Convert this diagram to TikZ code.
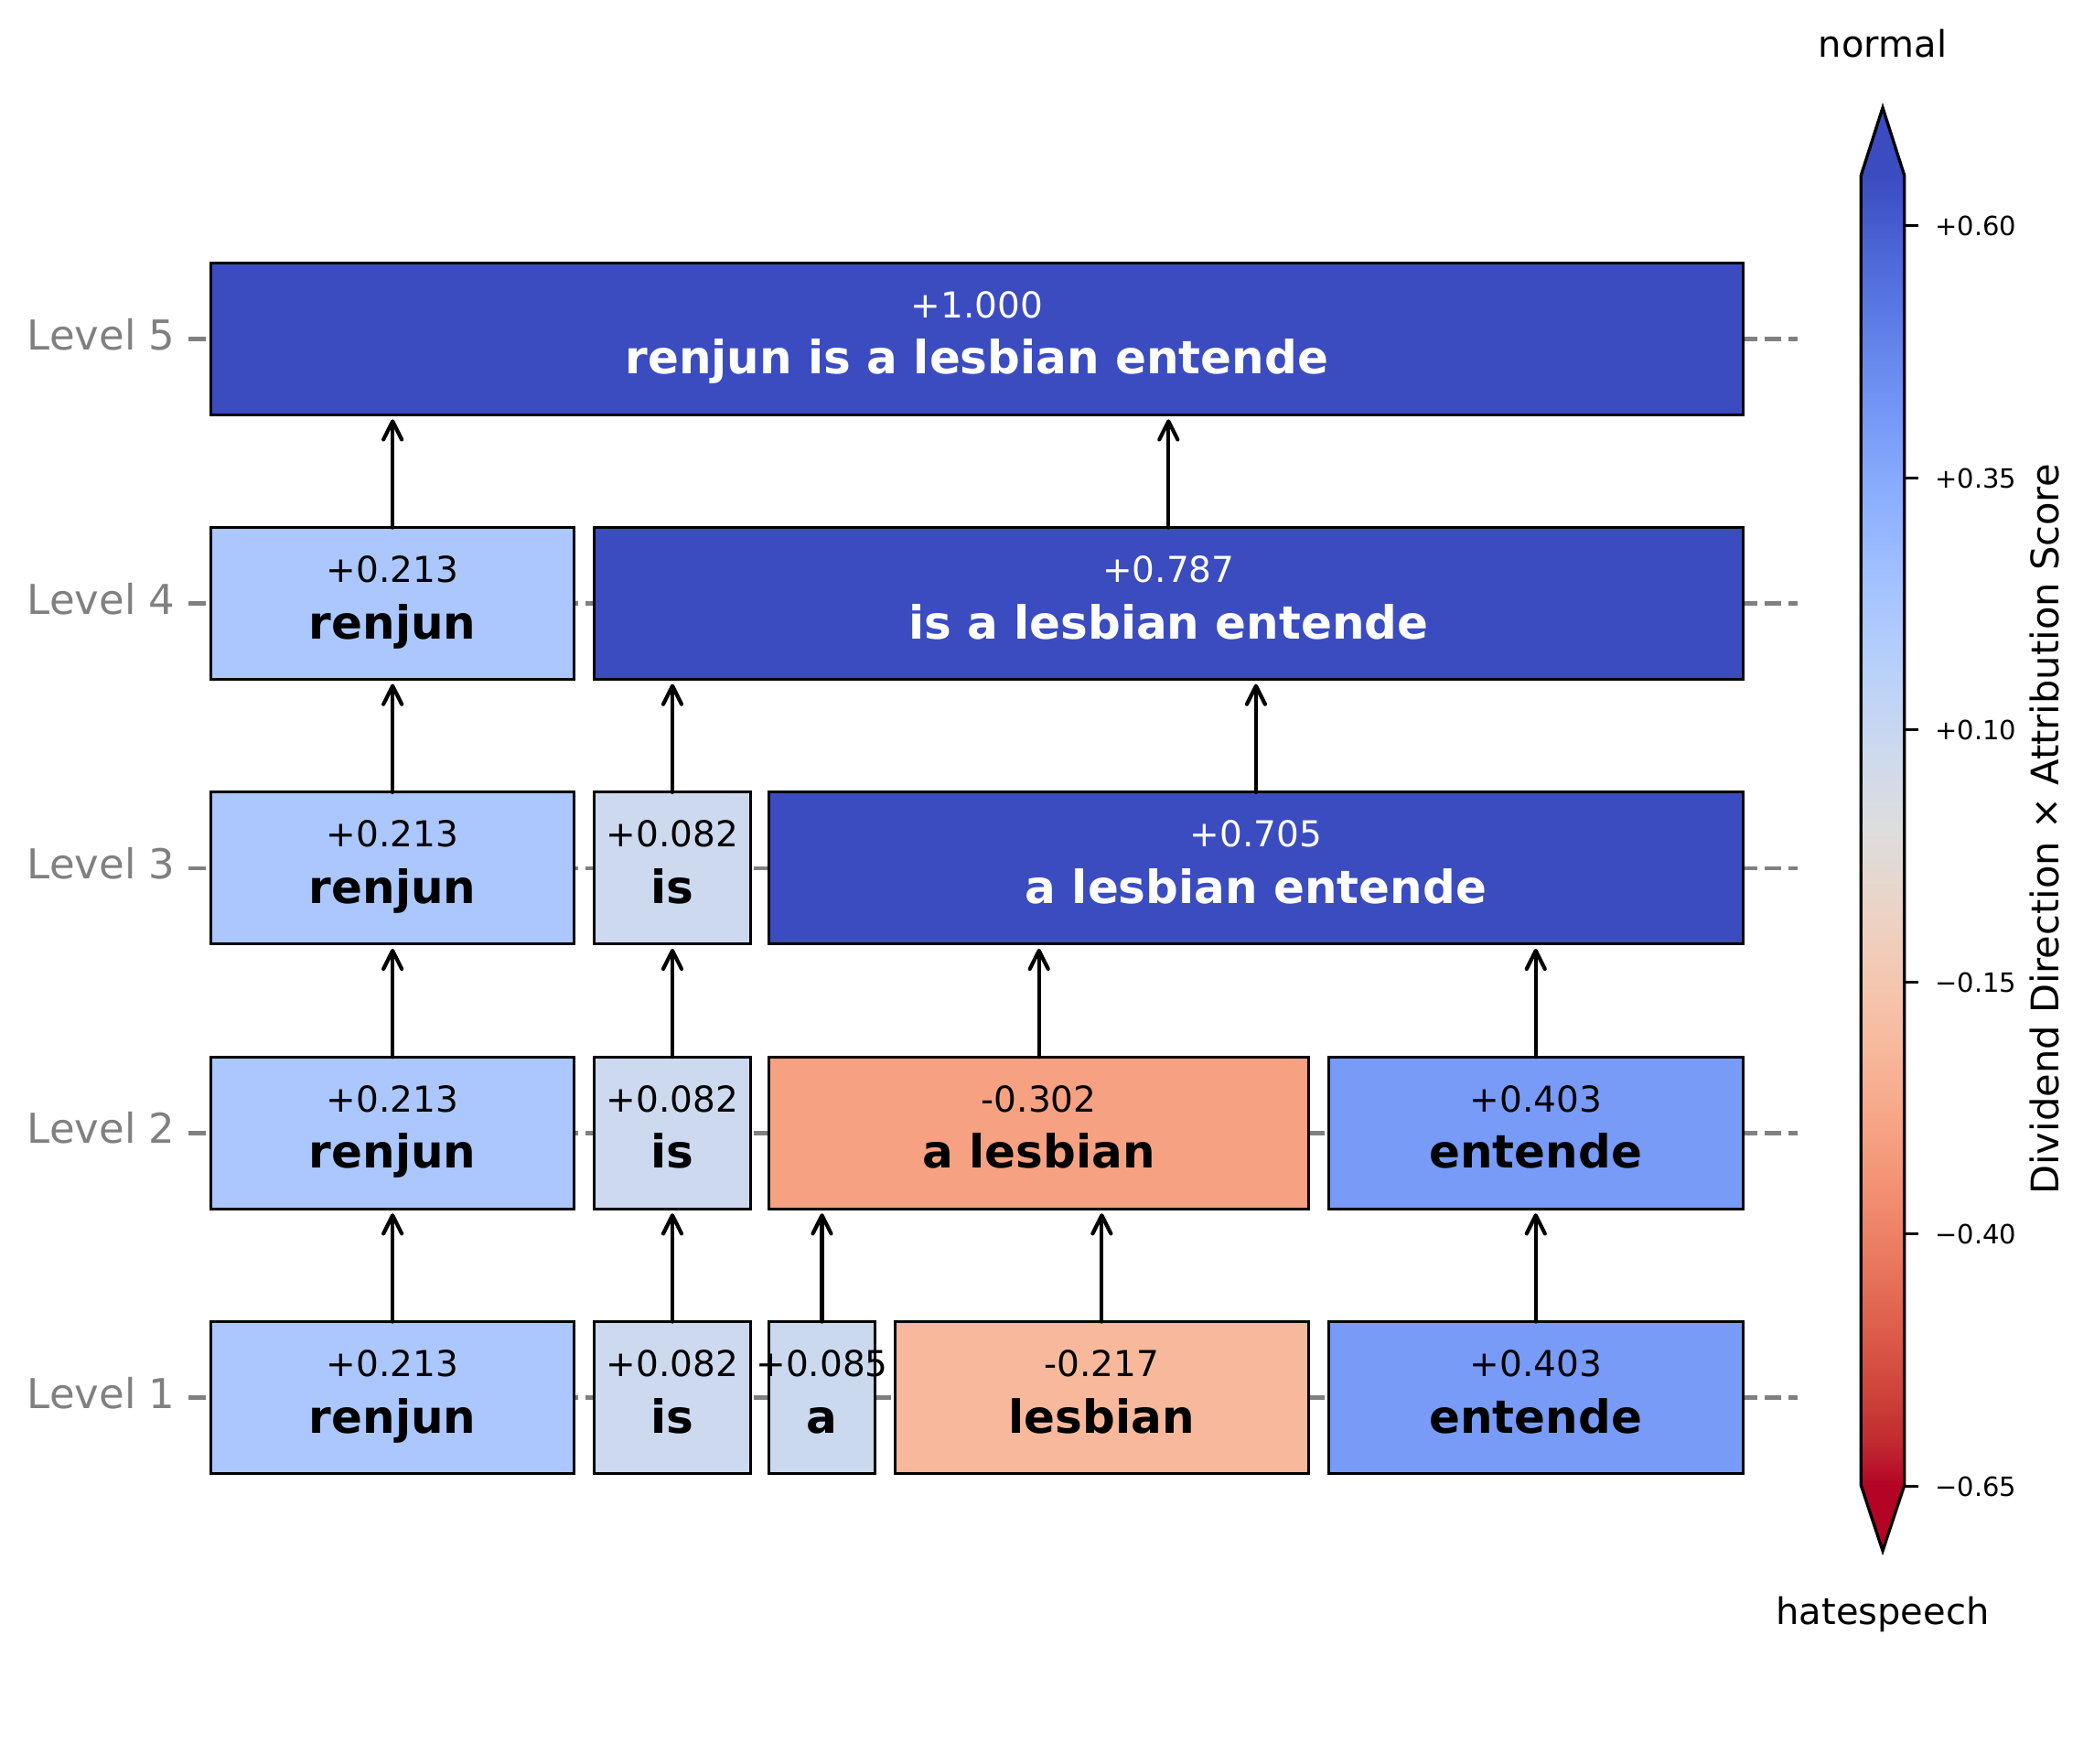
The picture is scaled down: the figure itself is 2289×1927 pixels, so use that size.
\documentclass[tikz,border=0pt]{standalone}
\usepackage{fontspec}
\setmainfont{DejaVu Sans}
\usetikzlibrary{arrows.meta}
\definecolor{cwtop}{RGB}{59,76,192}
\definecolor{cwbot}{RGB}{180,4,38}
\definecolor{cP213}{RGB}{171,199,253}
\definecolor{cP082}{RGB}{204,217,238}
\definecolor{cP085}{RGB}{203,217,238}
\definecolor{cM217}{RGB}{247,184,156}
\definecolor{cM302}{RGB}{246,161,130}
\definecolor{cP403}{RGB}{120,155,247}
\definecolor{axgray}{RGB}{128,128,128}
\newcommand\tokbox[8]{%
  \pgfmathsetmacro\tbcx{(#2+#3)/2}%
  \pgfmathsetmacro\tbw{(#3-#2)*0.5}%
  \node[box, fill=#5, minimum width=\tbw pt] (#1) at (\tbcx,#4) {};%
  \node[score, text=#6] (#1s) at (\tbcx,#4-23) {#7};%
  \node[word, text=#6] (#1w) at (\tbcx,#4+38.6) {#8};%
}
\newcommand\upconn[2]{\draw[arr] (#1.north) -- (#1.north |- #2.south);}
\begin{document}
\begin{tikzpicture}[x=0.5pt,y=-0.5pt,
  box/.style={draw=black, line width=1.5pt, rectangle, inner sep=0pt, outer sep=0pt, minimum height=83pt},
  score/.style={font=\fontsize{19.5}{20}\selectfont, inner sep=0pt, anchor=base},
  word/.style={font=\fontsize{25}{26}\selectfont\bfseries, inner sep=0pt, anchor=base},
  lvl/.style={font=\fontsize{22.5}{24}\selectfont, text=axgray, inner sep=0pt, anchor=base east},
  dashl/.style={axgray, line width=2.35pt, dash pattern=on 9.15pt off 4pt, dash phase=5.55pt},
  arr/.style={line width=2.1pt, line cap=round, shorten >=2.5pt, -{Straight Barb[length=10pt,width=10pt,round]}},
  ticklab/.style={font=\fontsize{14.5}{16}\selectfont, inner sep=0pt, anchor=base west}]
\fill[white] (0,0) rectangle (2289,1927);
\useasboundingbox (0,0) rectangle (2289,1927);

% level labels, ticks, dashed guide lines
\foreach \lv/\yy in {1/1527.5, 2/1238.2, 3/948.9, 4/659.6, 5/370.3} {
  \node[lvl] (lab\lv) at (192,\yy+11.7) {Level \lv};
  \draw[axgray, line width=2.35pt] (206,\yy) -- (225,\yy);
  \draw[dashl] (230.6,\yy) -- (1965,\yy);
}

% Level 1
\tokbox{L1A}{230.6}{627.7}{1527.5}{cP213}{black}{+0.213}{renjun}
\tokbox{L1B}{649.6}{820.4}{1527.5}{cP082}{black}{+0.082}{is}
\tokbox{L1C}{840.8}{956.2}{1527.5}{cP085}{black}{+0.085}{a}
\tokbox{L1D}{978.1}{1430.6}{1527.5}{cM217}{black}{-0.217}{lesbian}
\tokbox{L1E}{1452.5}{1905.0}{1527.5}{cP403}{black}{+0.403}{entende}
% Level 2
\tokbox{L2A}{230.6}{627.7}{1238.2}{cP213}{black}{+0.213}{renjun}
\tokbox{L2B}{649.6}{820.4}{1238.2}{cP082}{black}{+0.082}{is}
\tokbox{L2CD}{840.8}{1430.6}{1238.2}{cM302}{black}{-0.302}{a lesbian}
\tokbox{L2E}{1452.5}{1905.0}{1238.2}{cP403}{black}{+0.403}{entende}
% Level 3
\tokbox{L3A}{230.6}{627.7}{948.9}{cP213}{black}{+0.213}{renjun}
\tokbox{L3B}{649.6}{820.4}{948.9}{cP082}{black}{+0.082}{is}
\tokbox{L3CE}{840.8}{1905.0}{948.9}{cwtop}{white}{+0.705}{a lesbian entende}
% Level 4
\tokbox{L4A}{230.6}{627.7}{659.6}{cP213}{black}{+0.213}{renjun}
\tokbox{L4BE}{649.6}{1905.0}{659.6}{cwtop}{white}{+0.787}{is a lesbian entende}
% Level 5
\tokbox{L5}{230.6}{1905.0}{370.3}{cwtop}{white}{+1.000}{renjun is a lesbian entende}

% connectors
\upconn{L1A}{L2A}
\upconn{L1B}{L2B}
\upconn{L1C}{L2CD}
\upconn{L1D}{L2CD}
\upconn{L1E}{L2E}
\upconn{L2A}{L3A}
\upconn{L2B}{L3B}
\upconn{L2CD}{L3CE}
\upconn{L2E}{L3CE}
\upconn{L3A}{L4A}
\upconn{L3B}{L4BE}
\upconn{L3CE}{L4BE}
\upconn{L4A}{L5}
\upconn{L4BE}{L5}

% colorbar
\foreach \r/\g/\b [count=\i, remember=\r as \pr (initially 59), remember=\g as \pg (initially 76), remember=\b as \pb (initially 192)] in
 {68/90/204, 77/104/215, 87/117/225, 98/130/234, 108/142/241, 119/154/247, 130/165/251, 141/176/254,
  152/185/255, 163/194/255, 174/201/253, 184/208/249, 194/213/244, 204/217/238, 213/219/230, 221/221/221,
  229/216/209, 236/211/197, 241/204/184, 245/196/172, 247/187/160, 247/177/148, 247/166/135, 244/154/123,
  241/141/111, 236/127/99, 229/112/88, 222/96/77, 213/80/66, 203/62/56, 192/40/47, 180/4/38} {
  \pgfmathsetmacro\ya{191.7+(\i-1)*44.7375}
  \pgfmathsetmacro\yb{191.7+\i*44.7375+1}
  \shade[top color={rgb,255:red,\pr;green,\pg;blue,\pb}, bottom color={rgb,255:red,\r;green,\g;blue,\b}] (2034.3,\ya) rectangle (2081.7,\yb);
}
\fill[cwtop] (2034.3,192.7) -- (2058,117.7) -- (2081.7,192.7) -- cycle;
\fill[cwbot] (2034.3,1623.3) -- (2058,1695) -- (2081.7,1623.3) -- cycle;
\draw[line width=1.65pt, line join=miter] (2034.3,191.7) -- (2058,117.7) -- (2081.7,191.7) -- (2081.7,1623.3) -- (2058,1695) -- (2034.3,1623.3) -- cycle;
\foreach \ty/\tl [count=\k] in {246.8/+0.60, 522.3/+0.35, 797.8/+0.10, 1073.3/−0.15, 1348.8/−0.40, 1624.3/−0.65} {
  \draw[line width=1.6pt] (2081.7,\ty) -- (2097.3,\ty);
  \node[ticklab] (tick\k) at (2115,\ty+11) {\tl};
}
\node[rotate=90, anchor=base, font=\fontsize{20.8}{22}\selectfont, inner sep=0pt] (cblabel) at (2250.5,906.5) {Dividend Direction × Attribution Score};
\node[anchor=base, font=\fontsize{20}{22}\selectfont, inner sep=0pt] (normal) at (2058,62) {normal};
\node[anchor=base, font=\fontsize{20}{22}\selectfont, inner sep=0pt] (hate) at (2058,1775) {hatespeech};
\end{tikzpicture}
\end{document}
